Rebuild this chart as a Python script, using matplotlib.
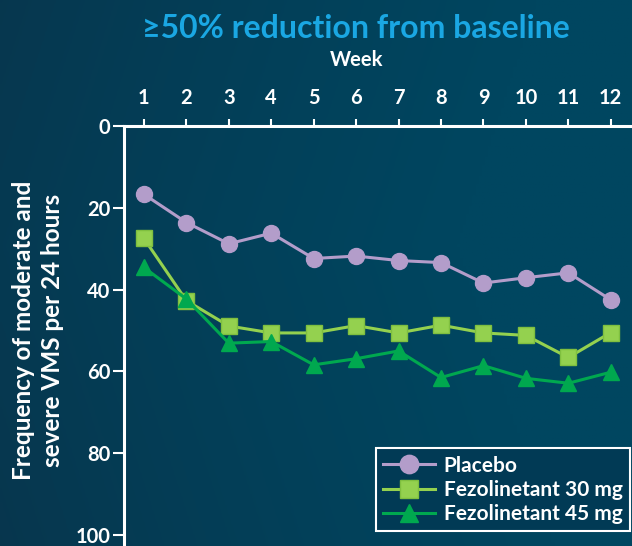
import numpy as np
import matplotlib
matplotlib.use("Agg")
import matplotlib.pyplot as plt

plt.rcParams['font.family'] = ['Lato', 'DejaVu Sans']

weeks = [1, 2, 3, 4, 5, 6, 7, 8, 9, 10, 11, 12]
placebo = [16.7, 23.6, 28.8, 26.2, 32.4, 31.8, 32.9, 33.4, 38.4, 37.1, 35.9, 42.5]
fez30 = [27.5, 42.7, 48.9, 50.6, 50.6, 48.8, 50.6, 48.7, 50.6, 51.2, 56.6, 50.5]
fez45 = [34.6, 42.3, 53.1, 52.7, 58.4, 56.9, 55.0, 61.5, 58.6, 61.7, 62.9, 60.2]
yticks = [0, 20, 40, 60, 80, 100]
labels = ["Placebo", "Fezolinetant 30 mg", "Fezolinetant 45 mg"]

W, H = 632, 546
fig = plt.figure(figsize=(W / 100, H / 100), dpi=100)

# background gradient
bg = fig.add_axes([0, 0, 1, 1], zorder=-10)
bg.set_axis_off()
xx = np.linspace(0, 1, 200)
yy = np.linspace(0, 1, 200)
X, Y = np.meshgrid(xx, yy)
c_dark = np.array([0x0c, 0x2c, 0x42]) / 255
c_light = np.array([0x00, 0x46, 0x60]) / 255
t = np.clip(0.35 + 0.9 * X - 0.25 * (np.abs(Y - 0.45)), 0, 1)
t = np.clip(t, 0, 1) ** 0.6
img = c_dark[None, None, :] * (1 - t[..., None]) + c_light[None, None, :] * t[..., None]
bg.imshow(img, extent=[0, 1, 0, 1], aspect='auto', origin='upper')
bg.set_xlim(0, 1)
bg.set_ylim(0, 1)

ax = fig.add_axes([124 / W, 0, 1 - 124 / W, 1 - 126 / H])
ax.set_facecolor('none')

lw = 2.2
ax.plot(weeks, placebo, color='#b39dca', lw=lw, marker='o', ms=11.5, mec='#b39dca', label=labels[0], clip_on=False)
ax.plot(weeks, fez30, color='#94d14f', lw=lw, marker='s', ms=11.5, mec='#7fbf3f', label=labels[1], clip_on=False)
ax.plot(weeks, fez45, color='#00a84f', lw=lw, marker='^', ms=11.5, mec='#00a84f', label=labels[2], clip_on=False)

ax.set_xlim(0.53, 12.5)
ax.set_ylim(102.7, 0)

for s in ['right', 'bottom']:
    ax.spines[s].set_visible(False)
for s in ['top', 'left']:
    ax.spines[s].set_color('white')
    ax.spines[s].set_linewidth(2.2)

ax.xaxis.tick_top()
ax.set_xticks(weeks)
ax.set_xticklabels([str(w) for w in weeks])
ax.tick_params(axis='x', colors='white', direction='out', length=5, width=1.5, pad=8, labelsize=14.5)
ax.set_yticks(yticks)
ax.tick_params(axis='y', colors='white', direction='out', length=8, width=1.5, pad=2, labelsize=14.5)
for lab in ax.get_xticklabels() + ax.get_yticklabels():
    lab.set_fontweight('bold')
    lab.set_color('white')

fig.text(357 / W, 1 - 60 / H, "Week", color='white', fontsize=14.5, fontweight='bold', ha='center', va='center')
fig.text(356 / W, 1 - 28 / H, "\u226550% reduction from baseline", color='#1aa7e3', fontsize=23, fontweight='bold', ha='center', va='center')

fig.text(38 / W, 1 - 330 / H, "Frequency of moderate and\nsevere VMS per 24 hours", color='white', fontsize=17.5,
         fontweight='bold', rotation=90, ha='center', va='center', linespacing=1.3)

leg = ax.legend(loc='lower right', bbox_to_anchor=(1.0, 0.03), frameon=True, fancybox=False, fontsize=15,
                handlelength=2.5, handletextpad=0.4, borderpad=0.35, labelspacing=0.2, borderaxespad=0.1,
                markerscale=1.15)
frame = leg.get_frame()
frame.set_facecolor('#013a55')
frame.set_edgecolor('white')
frame.set_linewidth(1.5)
frame.set_alpha(1)
for txt in leg.get_texts():
    txt.set_color('white')
    txt.set_fontweight('bold')

fig.savefig('out.png', dpi=100)
